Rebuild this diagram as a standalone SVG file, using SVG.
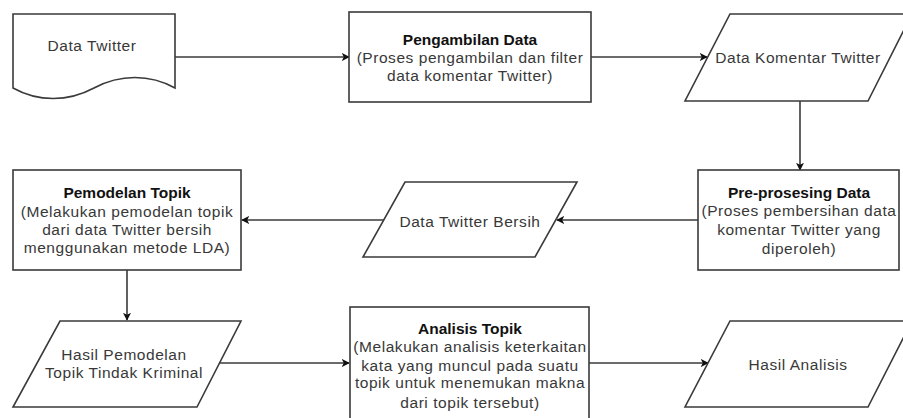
<svg xmlns="http://www.w3.org/2000/svg" width="903" height="418" viewBox="0 0 903 418">
<defs>
<style>
.shape{fill:#fff;stroke:#3a3a3a;stroke-width:1.6}
.edge{fill:none;stroke:#3a3a3a;stroke-width:1.6;marker-end:url(#arr)}
text{font-family:"Liberation Sans",Arial,sans-serif;font-size:15.5px;letter-spacing:0.55px;fill:#383838;text-anchor:middle}
.b{font-weight:bold;fill:#111;letter-spacing:0}
</style>
<marker id="arr" viewBox="0 0 10 10" refX="9" refY="5" markerWidth="8" markerHeight="8" markerUnits="userSpaceOnUse" orient="auto">
<path d="M0,0 L10,5 L0,10 L2.5,5 Z" fill="#111"/>
</marker>
</defs>
<rect width="903" height="418" fill="#fff"/>
<g id="connectors">
<line class="edge" x1="175" y1="57" x2="349" y2="57"/>
<line class="edge" x1="591" y1="57" x2="707" y2="57"/>
<line class="edge" x1="800" y1="101" x2="800" y2="170"/>
<line class="edge" x1="698" y1="220" x2="557" y2="220"/>
<line class="edge" x1="384" y1="220" x2="242" y2="220"/>
<line class="edge" x1="127" y1="270" x2="127" y2="320"/>
<line class="edge" x1="219" y1="363" x2="349" y2="363"/>
<line class="edge" x1="589" y1="363" x2="708" y2="363"/>
</g>
<g id="data-twitter">
<path class="shape" d="M13,14 L175,14 L175,88 C150,74 120,74 94,88 C68,102 38,102 13,88 Z"/>
<text x="92" y="51">Data Twitter</text>
</g>
<g id="pengambilan">
<rect class="shape" x="349" y="12" width="242" height="90"/>
<text class="b" x="470" y="45">Pengambilan Data</text>
<text x="470" y="63">(Proses pengambilan dan filter</text>
<text x="470" y="81">data komentar Twitter)</text>
</g>
<g id="data-komentar">
<polygon class="shape" points="730,14 912,14 868,101 685,101"/>
<text x="798" y="63">Data Komentar Twitter</text>
</g>
<g id="preprosesing">
<rect class="shape" x="698" y="170" width="201" height="100"/>
<text class="b" x="799" y="198">Pre-prosesing Data</text>
<text x="799" y="216">(Proses pembersihan data</text>
<text x="799" y="235">komentar Twitter yang</text>
<text x="799" y="254">diperoleh)</text>
</g>
<g id="data-bersih">
<polygon class="shape" points="405,182 577,182 535,257 363,257"/>
<text x="470" y="227">Data Twitter Bersih</text>
</g>
<g id="pemodelan">
<rect class="shape" x="13" y="170" width="228" height="100"/>
<text class="b" x="127" y="198">Pemodelan Topik</text>
<text x="127" y="217">(Melakukan pemodelan topik</text>
<text x="127" y="235">dari data Twitter bersih</text>
<text x="127" y="253">menggunakan metode LDA)</text>
</g>
<g id="hasil-pemodelan">
<polygon class="shape" points="60,321 241,321 197,407 13,407"/>
<text x="124" y="360">Hasil Pemodelan</text>
<text x="124" y="378">Topik Tindak Kriminal</text>
</g>
<g id="analisis">
<rect class="shape" x="350" y="307" width="239" height="113"/>
<text class="b" x="470" y="334">Analisis Topik</text>
<text x="470" y="352">(Melakukan analisis keterkaitan</text>
<text x="470" y="371">kata yang muncul pada suatu</text>
<text x="470" y="388">topik untuk menemukan makna</text>
<text x="470" y="408">dari topik tersebut)</text>
</g>
<g id="hasil-analisis">
<polygon class="shape" points="730,321 912,321 868,407 685,407"/>
<text x="798" y="370">Hasil Analisis</text>
</g>
</svg>
